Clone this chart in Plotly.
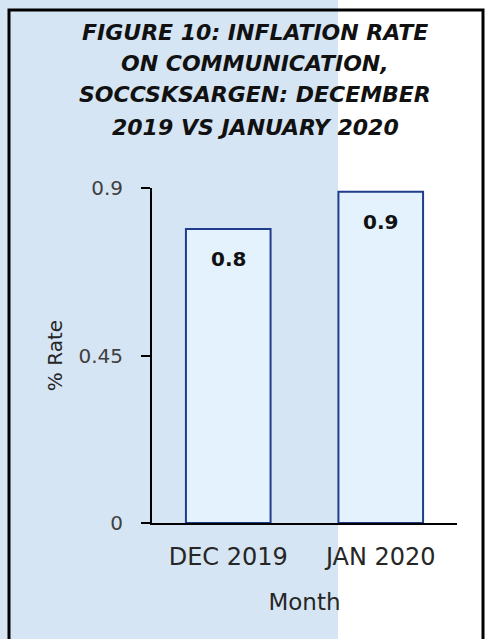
import plotly.graph_objects as go

months = ["DEC 2019", "JAN 2020"]
rates = [0.79, 0.89]
label_texts = ["0.8", "0.9"]
y_ticks = [0, 0.45, 0.9]
y_tick_text = ["0", "0.45", "0.9"]
title_lines = [
    "FIGURE 10: INFLATION RATE",
    "ON COMMUNICATION,",
    "SOCCSKSARGEN: DECEMBER",
    "2019 VS JANUARY 2020",
]

W, H = 485, 639
L, R, T, B = 152, 28, 188, 116
pw, ph = W - L - R, H - T - B


def px_x(px):
    return (px - L) / pw


def px_y(py):
    return (H - B - py) / ph


fig = go.Figure()
fig.add_trace(go.Bar(
    x=months, y=rates, width=0.555,
    marker=dict(color="#e3f2fc", line=dict(color="#1f3d8c", width=2)),
    hoverinfo="skip",
))

annotations = []
for m, v, t in zip(months, rates, label_texts):
    annotations.append(dict(x=m, y=v, xref="x", yref="y", text="<b>" + t + "</b>",
                            showarrow=False, yshift=-30, yanchor="middle",
                            font=dict(family="DejaVu Sans", size=20, color="#111111")))

title_y = [32, 63, 95, 127]
for line, py in zip(title_lines, title_y):
    annotations.append(dict(x=px_x(255), y=px_y(py), xref="paper", yref="paper",
                            text="<b><i>" + line + "</i></b>", showarrow=False,
                            xanchor="center", yanchor="middle",
                            font=dict(family="DejaVu Sans", size=22, color="#111111")))

shapes = [
    dict(type="rect", xref="paper", yref="paper", layer="below",
         x0=px_x(-5), x1=px_x(338), y0=px_y(650), y1=px_y(-5),
         fillcolor="#d6e5f3", line=dict(width=0)),
    dict(type="rect", xref="paper", yref="paper", layer="above",
         x0=px_x(9), x1=px_x(483), y0=px_y(660), y1=px_y(10),
         fillcolor="rgba(0,0,0,0)", line=dict(color="#000000", width=3)),
]

fig.update_layout(
    width=W, height=H,
    margin=dict(l=L, r=R, t=T, b=B, autoexpand=False),
    paper_bgcolor="#ffffff", plot_bgcolor="rgba(0,0,0,0)",
    showlegend=False,
    annotations=annotations, shapes=shapes,
    xaxis=dict(
        type="category", range=[-0.5, 1.5],
        showline=True, linecolor="#000000", linewidth=2,
        ticks="", showgrid=False, zeroline=False,
        tickfont=dict(family="DejaVu Sans", size=24, color="#262626"),
        ticklabelstandoff=11,
        title=dict(text="Month", standoff=24,
                   font=dict(family="DejaVu Sans", size=23, color="#262626")),
        automargin=False,
    ),
    yaxis=dict(
        range=[0, 0.9], tickvals=y_ticks, ticktext=y_tick_text,
        showline=True, linecolor="#000000", linewidth=2,
        ticks="outside", ticklen=9, tickwidth=2, tickcolor="#000000",
        showgrid=False, zeroline=False,
        tickfont=dict(family="DejaVu Sans", size=20, color="#404040"),
        ticklabelstandoff=14,
        title=dict(text="% Rate", standoff=10,
                   font=dict(family="DejaVu Sans", size=20, color="#262626")),
        automargin=False,
    ),
)

fig.write_html("out.html",
               config={"displayModeBar": False},
               post_script="document.body.style.margin='0';document.body.style.overflow='hidden';")
